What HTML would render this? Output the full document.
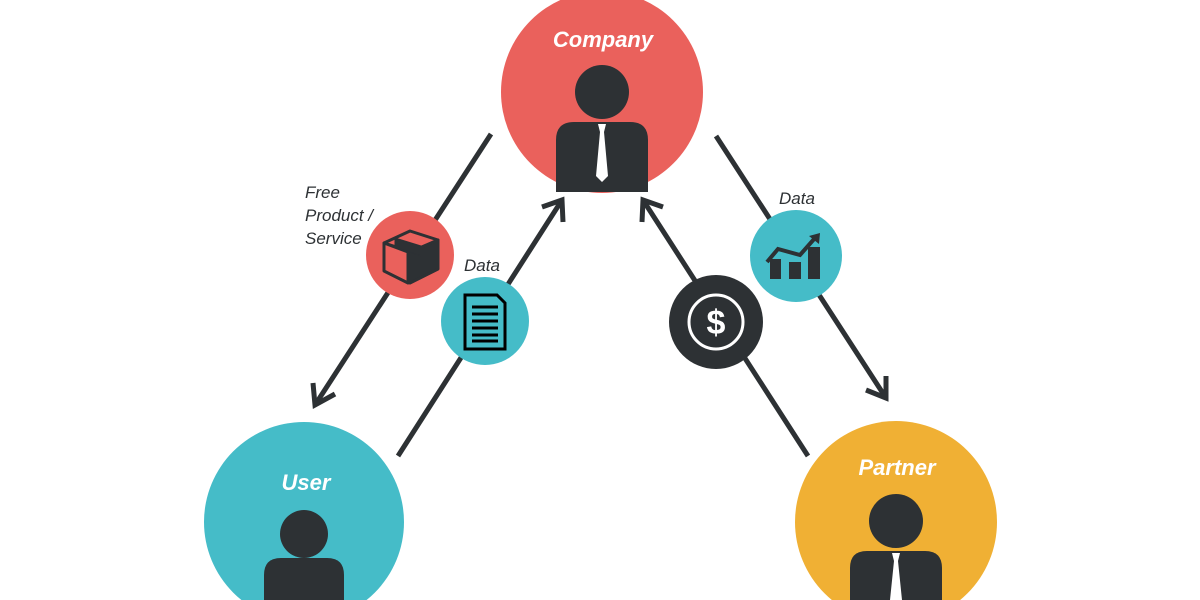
<!DOCTYPE html>
<html><head><meta charset="utf-8"><style>html,body{margin:0;padding:0;background:#fff}svg{display:block}</style></head><body>
<svg width="1200" height="600" viewBox="0 0 1200 600" xmlns="http://www.w3.org/2000/svg" font-family="'Liberation Sans',sans-serif">
<g stroke="#2d3134" stroke-width="5" fill="none" stroke-linecap="butt">
<line x1="491" y1="134" x2="315" y2="405"/>
<polyline points="313,383 315,405 335,394"/>
<line x1="398" y1="456" x2="562" y2="200"/>
<polyline points="542,207 562,200 563,222"/>
<line x1="808" y1="456" x2="643" y2="200"/>
<polyline points="642,222 643,200 663,207"/>
<line x1="716" y1="136" x2="886" y2="398"/>
<polyline points="866,390 886,398 886,376"/>
</g>
<circle cx="602" cy="92" r="101" fill="#ea615c"/>
<circle cx="602" cy="92" r="27" fill="#2d3134"/>
<path d="M556,192 V140 Q556,122 574,122 H630 Q648,122 648,140 V192 Z" fill="#2d3134"/>
<path d="M598,124 H606 L604,132 L608,176 L602,182 L596,176 L600,132 Z" fill="#fff"/>
<text x="603" y="47" font-size="22" font-weight="bold" font-style="italic" fill="#fff" text-anchor="middle">Company</text>
<circle cx="304" cy="522" r="100" fill="#45bcc8"/>
<circle cx="304" cy="534" r="24" fill="#2d3134"/>
<path d="M264,600 V575 Q264,558 281,558 H327 Q344,558 344,575 V600 Z" fill="#2d3134"/>
<text x="306" y="490" font-size="22" font-weight="bold" font-style="italic" fill="#fff" text-anchor="middle">User</text>
<circle cx="896" cy="522" r="101" fill="#f0b034"/>
<circle cx="896" cy="521" r="27" fill="#2d3134"/>
<path d="M850,600 V568 Q850,551 867,551 H925 Q942,551 942,568 V600 Z" fill="#2d3134"/>
<path d="M892,553 H900 L898,561 L902,600 H890 L894,561 Z" fill="#fff"/>
<text x="897" y="475" font-size="22" font-weight="bold" font-style="italic" fill="#fff" text-anchor="middle">Partner</text>
<circle cx="410" cy="255" r="44" fill="#ea615c"/>
<g stroke="#2d3134" stroke-width="3" stroke-linejoin="round">
<path d="M384,243 L410,231 L438,240 L412,252 Z" fill="#ea615c"/>
<path d="M384,243 V271 L408,283 V252 Z" fill="#ea615c"/>
<path d="M410,252 L438,240 V269 L410,283 Z" fill="#2d3134"/>
<path d="M395,238 L421,246 V256 L395,247 Z" fill="#2d3134" stroke-width="1"/>
</g>
<circle cx="485" cy="321" r="44" fill="#45bcc8"/>
<path d="M465,295 H497 L505,303 V349 H465 Z" fill="none" stroke="#000" stroke-width="3"/>
<g stroke="#000" stroke-width="3"><line x1="472" y1="307" x2="498" y2="307"/><line x1="472" y1="314" x2="498" y2="314"/><line x1="472" y1="321" x2="498" y2="321"/><line x1="472" y1="328" x2="498" y2="328"/><line x1="472" y1="335" x2="498" y2="335"/><line x1="472" y1="341" x2="498" y2="341"/></g>
<circle cx="716" cy="322" r="47" fill="#2d3134"/>
<circle cx="716" cy="322" r="27" fill="none" stroke="#fff" stroke-width="3"/>
<text x="716" y="334" font-size="34" font-weight="bold" fill="#fff" text-anchor="middle">$</text>
<circle cx="796" cy="256" r="46" fill="#45bcc8"/>
<g fill="#2d3134"><rect x="770" y="259" width="11" height="20"/><rect x="789" y="262" width="12" height="17"/><rect x="808" y="247" width="12" height="32"/></g>
<polyline points="767,262 778,249 800,255 815,238" fill="none" stroke="#2d3134" stroke-width="4"/>
<path d="M809,236 L820,233 L819,244 Z" fill="#2d3134"/>
<g font-size="17" font-style="italic" fill="#2d3134">
<text x="305" y="198">Free</text>
<text x="305" y="221">Product /</text>
<text x="305" y="244">Service</text>
<text x="464" y="271">Data</text>
<text x="779" y="204">Data</text>
</g>
</svg>
</body></html>
